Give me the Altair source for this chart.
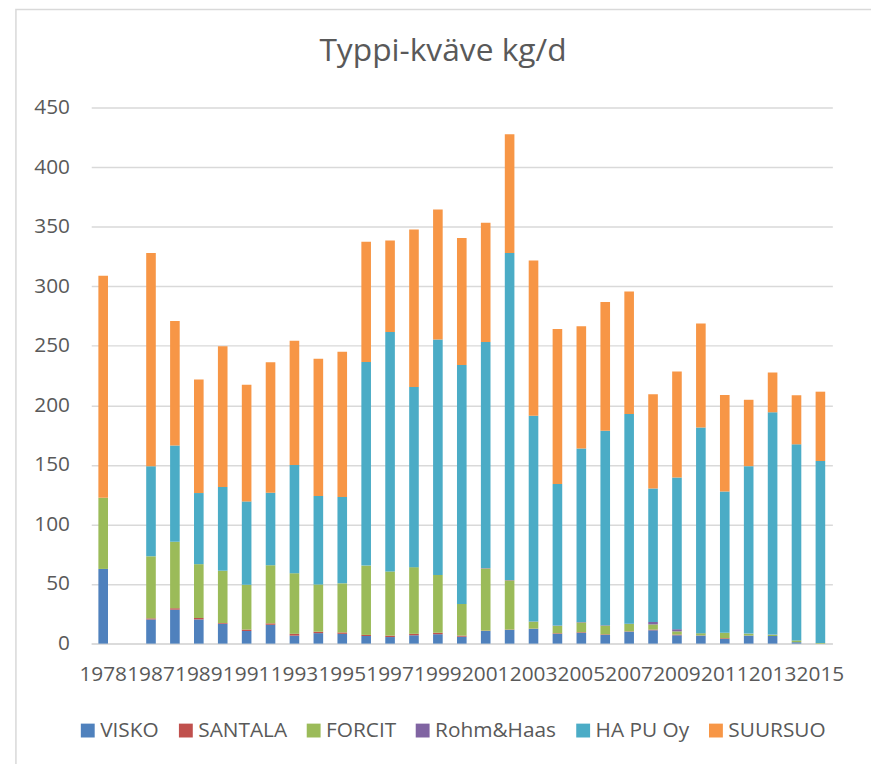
import altair as alt
import pandas as pd

years = ["1978", "1985", "1987", "1988", "1989", "1990", "1991", "1992", "1993", "1994",
         "1995", "1996", "1997", "1998", "1999", "2000", "2001", "2002", "2003", "2004",
         "2005", "2006", "2007", "2008", "2009", "2010", "2011", "2012", "2013", "2014", "2015"]
label_years = years[0::2]

series = ["VISKO", "SANTALA", "FORCIT", "Rohm&Haas", "HA PU Oy", "SUURSUO"]
colors = ["#4F81BD", "#C0504D", "#9BBB59", "#8064A2", "#4BACC6", "#F79646"]

visko = [62.7, None, 20.3, 28.5, 20.3, 16.7, 10.6, 15.8, 6.7, 8.8, 8.2, 6.4, 5.5, 7.0, 7.9, 5.8,
         10.6, 11.5, 12.4, 8.2, 9.1, 7.3, 10.0, 11.2, 7.0, 6.7, 3.9, 6.7, 6.4, 1.2, 0.0]
santala = [0.0, None, 0.9, 1.2, 1.2, 0.6, 1.2, 1.2, 1.5, 1.2, 1.2, 0.9, 1.2, 1.2, 1.2, 0.9,
           0.3, 0.3, 0.2, 0.5, 0.5, 0.5, 0.3, 0.6, 0.6, 0.2, 0.6, 0.1, 0.0, 0.0, 0.0]
forcit = [59.7, None, 52.1, 55.8, 45.2, 43.9, 37.6, 48.8, 50.9, 39.7, 41.2, 58.2, 53.9, 56.0, 48.5, 26.6,
          52.2, 41.3, 5.8, 6.2, 8.2, 7.3, 6.2, 4.3, 2.7, 1.8, 4.6, 1.5, 1.0, 1.5, 0.6]
rohm = [0.0, None, 0.0, 0.0, 0.0, 0.0, 0.0, 0.0, 0.0, 0.0, 0.0, 0.0, 0.0, 0.0, 0.0, 0.0,
        0.3, 0.3, 0.2, 0.3, 0.4, 0.4, 0.2, 2.1, 1.8, 0.1, 0.0, 0.1, 0.2, 0.0, 0.0]
hapu = [0.0, None, 75.5, 80.9, 59.7, 70.3, 70.0, 60.9, 90.9, 74.2, 72.4, 170.9, 200.9, 151.2, 197.8, 200.6,
        189.7, 274.6, 172.7, 118.7, 145.7, 163.3, 176.0, 112.1, 127.3, 172.7, 118.5, 140.6, 186.6, 164.6, 152.7]
suursuo = [186.4, None, 179.1, 104.5, 95.4, 118.2, 97.9, 109.4, 104.2, 115.2, 122.1, 100.9, 77.0, 132.2, 109.1, 106.7,
           100.3, 99.7, 130.3, 130.3, 102.5, 107.9, 103.0, 79.1, 89.1, 87.3, 81.2, 55.7, 33.4, 41.2, 58.2]

values = [visko, santala, forcit, rohm, hapu, suursuo]
rows = []
for si, (name, vals) in enumerate(zip(series, values)):
    for y, v in zip(years, vals):
        if v is not None:
            rows.append({"year": y, "series": name, "value": v, "idx": si})
df = pd.DataFrame(rows)

FONT = "Open Sans"
TXT = "#595959"
GRID = "#D9D9D9"

bars = alt.Chart(df).mark_bar(size=9.7).encode(
    x=alt.X("year:N", sort=years,
            scale=alt.Scale(domain=years, paddingInner=0.6, paddingOuter=0.3),
            axis=alt.Axis(values=label_years, labelAngle=0, labelOverlap=False, labelBound=False,
                          labelFlush=False, ticks=False, tickSize=0, domainColor=GRID, domainWidth=1.5,
                          labelFont=FONT, labelFontSize=21, labelColor=TXT, labelPadding=20, title=None)),
    y=alt.Y("value:Q", stack="zero",
            scale=alt.Scale(domain=[0, 450], nice=False),
            axis=alt.Axis(values=list(range(0, 451, 50)), title=None, domain=False, ticks=False, tickSize=0,
                          gridColor=GRID, gridWidth=1.5, labelFont=FONT, labelFontSize=21,
                          labelColor=TXT, labelPadding=22)),
    color=alt.Color("series:N",
                    scale=alt.Scale(domain=series, range=colors),
                    legend=alt.Legend(title=None, orient="none", direction="horizontal",
                                      legendX=-14, legendY=618, symbolType="square",
                                      symbolSize=196, symbolStrokeWidth=0, labelFont=FONT,
                                      labelFontSize=21, labelColor=TXT, labelOffset=2,
                                      columnPadding=16, padding=0)),
    order=alt.Order("idx:Q"),
)

frame = alt.Chart(pd.DataFrame({"a": [0]})).mark_rect(
    fillOpacity=0, stroke=GRID, strokeWidth=1.5
).encode(
    x=alt.value(-76), x2=alt.value(900), y=alt.value(-99), y2=alt.value(700)
)

chart = alt.layer(frame, bars).properties(
    width=748,
    height=541,
    padding={"left": 84, "top": 97, "right": 39, "bottom": 118},
    autosize=alt.AutoSizeParams(type="none"),
    title=alt.TitleParams("Typpi-kväve kg/d", font=FONT, fontSize=32, fontWeight="normal",
                          color=TXT, anchor="middle", dx=-19, offset=-60),
).configure_view(stroke=None)

chart.save("out.html", embed_options={"renderer": "svg", "actions": False})
